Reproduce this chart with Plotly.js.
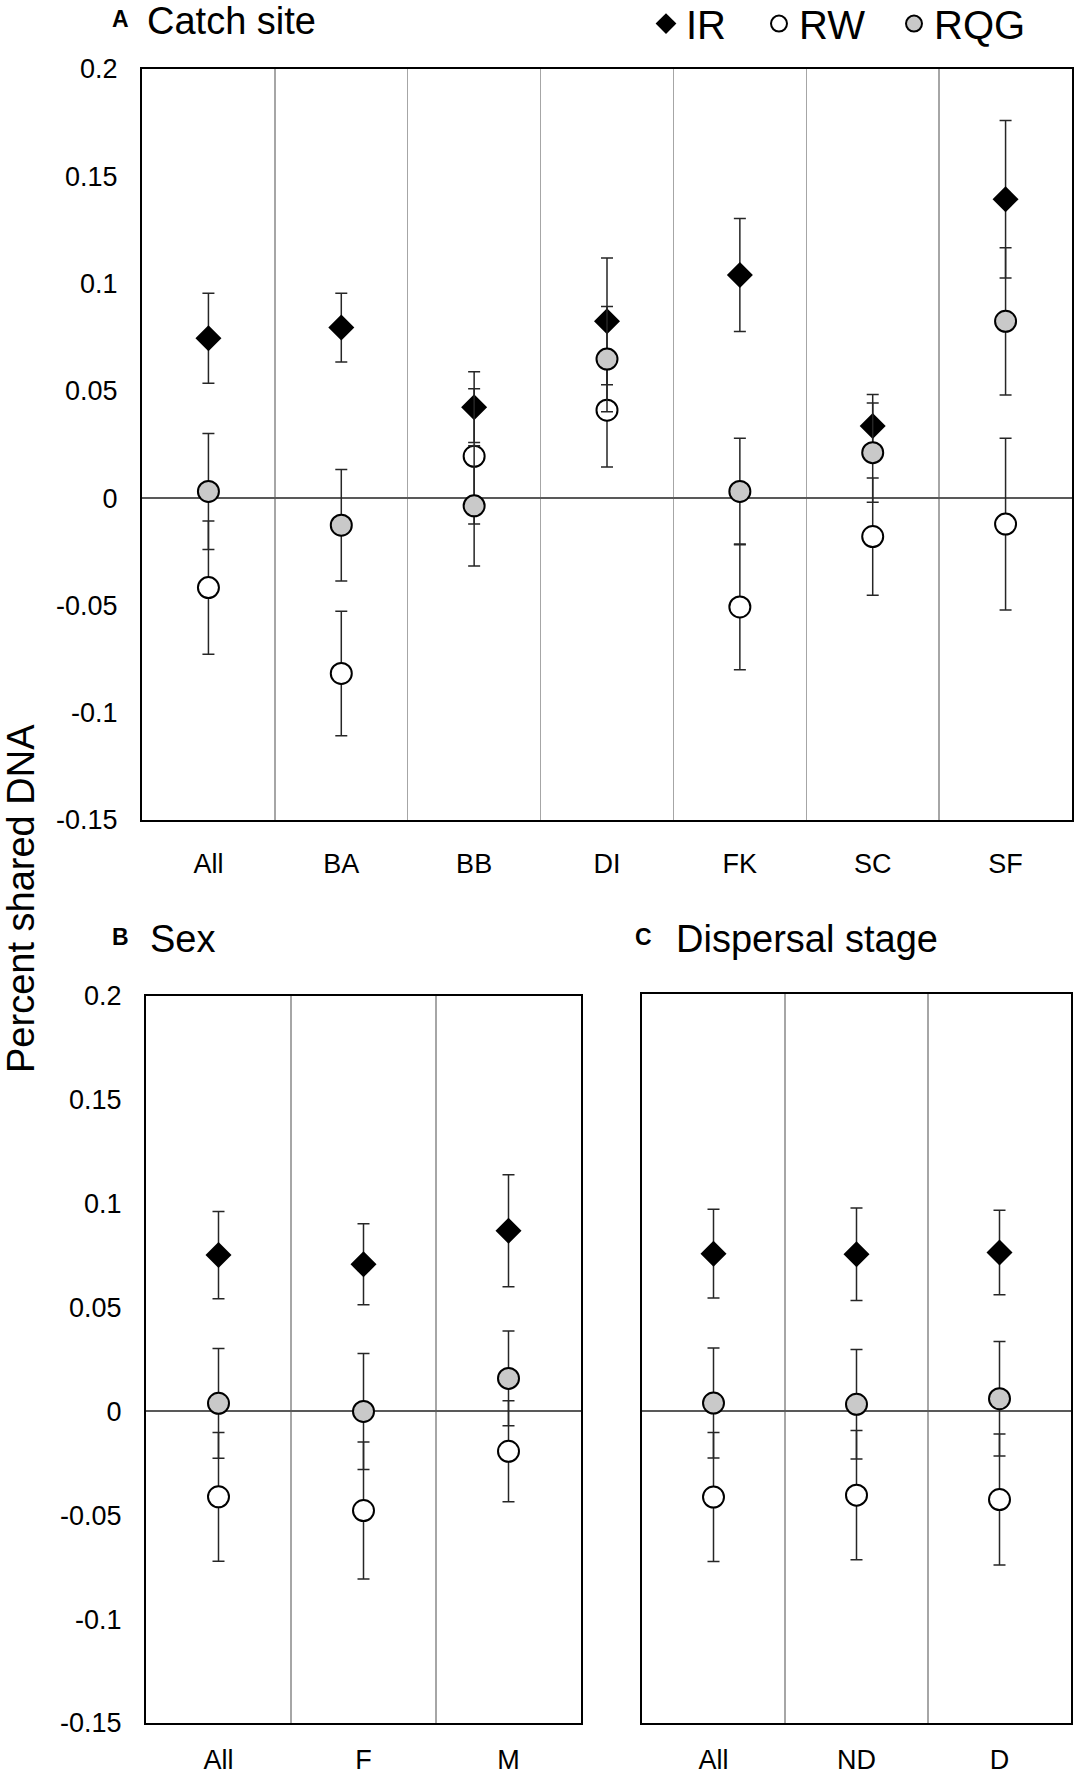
<!DOCTYPE html>
<html>
<head>
<meta charset="utf-8">
<script src="https://cdn.plot.ly/plotly-3.0.1.min.js"></script>
<style>
  body { margin: 0; background: #fff; }
  #chart { width: 1076px; height: 1776px; }
</style>
</head>
<body>
<div id="chart"></div>
<script>
// panel A: catch site
const siteCats = ["All", "BA", "BB", "DI", "FK", "SC", "SF"];
const irSite = [0.0745, 0.0795, 0.0424, 0.0824, 0.104, 0.0336, 0.1393];
const irSiteErr = [0.021, 0.016, 0.0165, 0.0295, 0.0263, 0.0147, 0.0367];
const rwSite = [-0.0417, -0.0817, 0.0195, 0.041, -0.0507, -0.0179, -0.0121];
const rwSiteErr = [0.031, 0.029, 0.0315, 0.0265, 0.0293, 0.0273, 0.04];
const rqgSite = [0.0031, -0.0126, -0.0036, 0.0648, 0.0031, 0.0212, 0.0824];
const rqgSiteErr = [0.027, 0.026, 0.028, 0.0245, 0.0248, 0.0231, 0.0343];

// panel B: sex
const sexCats = ["All", "F", "M"];
const irSex = [0.0753, 0.0708, 0.087];
const irSexErr = [0.021, 0.0195, 0.027];
const rwSex = [-0.0411, -0.0477, -0.0192];
const rwSexErr = [0.031, 0.033, 0.0243];
const rqgSex = [0.0039, 0.0, 0.0159];
const rqgSexErr = [0.0264, 0.0279, 0.0228];

// panel C: dispersal stage
const stageCats = ["All", "ND", "D"];
const irStage = [0.0753, 0.075, 0.0759];
const irStageErr = [0.0213, 0.0222, 0.0203];
const rwStage = [-0.0415, -0.0406, -0.0427];
const rwStageErr = [0.031, 0.031, 0.0314];
const rqgStage = [0.0036, 0.003, 0.0057];
const rqgStageErr = [0.0264, 0.0263, 0.0275];

const yTickVals = [-0.15, -0.1, -0.05, 0, 0.05, 0.1, 0.15, 0.2];
const yTickText = ["-0.15", "-0.1", "-0.05", "0", "0.05", "0.1", "0.15", "0.2"];

const W = 1076, H = 1776;
const px = (v) => v / W;
const py = (v) => 1 - v / H;
const FONT = "Liberation Sans, Arial, sans-serif";

const series = {
  IR: { symbol: "diamond", size: 20, color: "#000000", line: 0, legendwidth: 68 },
  RW: { symbol: "circle", size: 21, color: "#ffffff", line: 2, legendwidth: 90 },
  RQG: { symbol: "circle", size: 21, color: "#c9c9c9", line: 2, legendwidth: 100 },
};

function pointTrace(name, cats, vals, errs, axis, showlegend) {
  const s = series[name];
  return {
    type: "scatter",
    mode: "markers",
    name: name,
    x: cats,
    y: vals,
    xaxis: "x" + axis,
    yaxis: "y" + axis,
    showlegend: showlegend,
    legendwidth: s.legendwidth,
    marker: {
      symbol: s.symbol,
      size: s.size,
      color: s.color,
      line: { color: "#000000", width: s.line },
    },
    error_y: {
      type: "data",
      array: errs,
      visible: true,
      color: "#262626",
      thickness: 1.5,
      width: 6,
    },
    hoverinfo: "skip",
  };
}

const data = [
  pointTrace("IR", siteCats, irSite, irSiteErr, "", true),
  pointTrace("RW", siteCats, rwSite, rwSiteErr, "", true),
  pointTrace("RQG", siteCats, rqgSite, rqgSiteErr, "", true),
  pointTrace("IR", sexCats, irSex, irSexErr, "2", false),
  pointTrace("RW", sexCats, rwSex, rwSexErr, "2", false),
  pointTrace("RQG", sexCats, rqgSex, rqgSexErr, "2", false),
  pointTrace("IR", stageCats, irStage, irStageErr, "3", false),
  pointTrace("RW", stageCats, rwStage, rwStageErr, "3", false),
  pointTrace("RQG", stageCats, rqgStage, rqgStageErr, "3", false),
];

function xAxis(domain, anchor, n, standoff) {
  return {
    domain: domain,
    anchor: anchor,
    type: "category",
    range: [-0.5, n - 0.5],
    tickson: "boundaries",
    ticks: "",
    showgrid: true,
    gridcolor: "#a6a6a6",
    gridwidth: 1.5,
    showline: true,
    mirror: true,
    linecolor: "#000000",
    linewidth: 2,
    zeroline: false,
    tickfont: { family: FONT, size: 27, color: "#000000" },
    ticklabelstandoff: standoff,
    fixedrange: true,
  };
}

function yAxis(domain, anchor, labels) {
  return {
    domain: domain,
    anchor: anchor,
    range: [-0.15, 0.2],
    tickvals: yTickVals,
    ticktext: yTickText,
    showticklabels: labels,
    ticks: "",
    showgrid: false,
    zeroline: true,
    zerolinecolor: "#595959",
    zerolinewidth: 2,
    showline: true,
    mirror: true,
    linecolor: "#000000",
    linewidth: 2,
    tickfont: { family: FONT, size: 27, color: "#000000" },
    ticklabelstandoff: 17,
    fixedrange: true,
  };
}

function label(text, x, y, size, bold) {
  return {
    text: bold ? "<b>" + text + "</b>" : text,
    xref: "paper",
    yref: "paper",
    x: px(x),
    y: py(y),
    xanchor: bold ? "center" : "left",
    yanchor: "middle",
    showarrow: false,
    font: { family: FONT, size: size, color: "#000000" },
  };
}

const layout = {
  width: W,
  height: H,
  margin: { l: 0, r: 0, t: 0, b: 0, autoexpand: false },
  paper_bgcolor: "#ffffff",
  plot_bgcolor: "#ffffff",
  font: { family: FONT, color: "#000000" },
  showlegend: true,
  legend: {
    orientation: "h",
    x: px(646),
    xanchor: "left",
    y: 1.005,
    yanchor: "top",
    font: { family: FONT, size: 40, color: "#000000" },
    bgcolor: "rgba(0,0,0,0)",
  },
  xaxis: xAxis([px(142), px(1072)], "y", siteCats.length, 19),
  yaxis: yAxis([py(820), py(69)], "x", true),
  xaxis2: xAxis([px(146), px(581)], "y2", sexCats.length, 12),
  yaxis2: yAxis([py(1723), py(996)], "x2", true),
  xaxis3: xAxis([px(642), px(1071)], "y3", stageCats.length, 12),
  yaxis3: yAxis([py(1723), py(994)], "x3", false),
  annotations: [
    label("A", 120, 19, 23, true),
    label("Catch site", 145, 21, 38, false),
    label("B", 120, 937, 23, true),
    label("Sex", 148, 939, 38, false),
    label("C", 643, 937, 23, true),
    label("Dispersal stage", 674, 939, 38, false),
    {
      text: "Percent shared DNA",
      xref: "paper",
      yref: "paper",
      x: px(44),
      y: py(899),
      xanchor: "right",
      yanchor: "middle",
      textangle: -90,
      showarrow: false,
      font: { family: FONT, size: 38, color: "#000000" },
    },
  ],
};

Plotly.newPlot("chart", data, layout, { staticPlot: true, displayModeBar: false });
</script>
</body>
</html>
